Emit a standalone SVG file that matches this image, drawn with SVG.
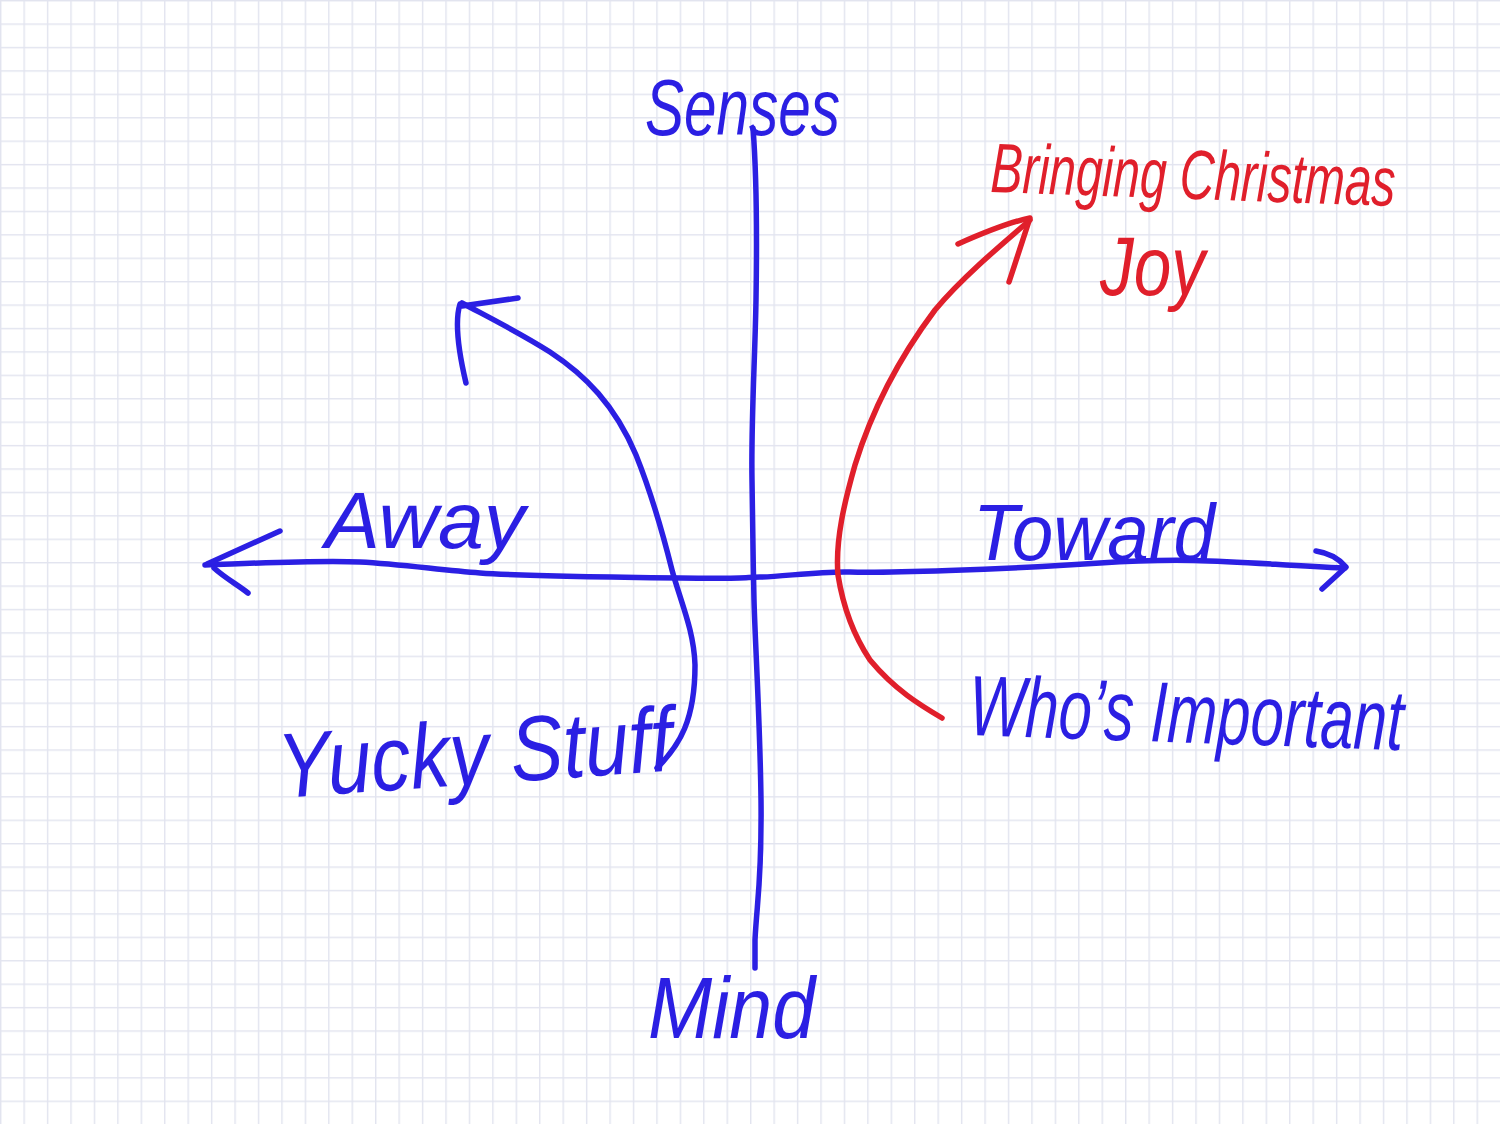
<svg xmlns="http://www.w3.org/2000/svg" width="1500" height="1124" viewBox="0 0 1500 1124">
<style>
.pen{fill:none;stroke-width:5.5;stroke-linecap:round;stroke-linejoin:round}
.blue{stroke:#2b1fe3}
.red{stroke:#e01f2b}
.hw{font-family:"Liberation Sans","DejaVu Sans",sans-serif;font-style:italic}
.tb{fill:#2b1fe3}
.tr{fill:#e01f2b}
</style>
<defs>
<pattern id="grid" width="23.4375" height="23.4167" patternUnits="userSpaceOnUse">
<rect x="0" y="0" width="1.4" height="23.4167" fill="#e2e4ef"/>
<rect x="0" y="0" width="23.4375" height="1.4" fill="#e2e4ef"/>
</pattern>
</defs>
<rect width="1500" height="1124" fill="#ffffff"/>
<rect width="1500" height="1124" fill="url(#grid)"/>
<g id="axes">
<path id="horizontal-axis" class="pen blue" d="M205,565 C260,563 320,560 360,562 S440,570 480,573 S600,577 680,578 S740,577 760,577 S820,571 850,572 S1000,570 1100,563 S1250,564 1345,568"/>
<path class="pen blue" d="M280,531 L207,564 M214,568 C225,578 238,585 248,593"/>
<path class="pen blue" d="M1316,551 C1330,553 1340,560 1346,567 L1322,589"/>
<path id="vertical-axis" class="pen blue" d="M753,128 C757,180 757,240 756,300 S751,420 752,480 S753,560 754,600 S760,720 761,800 S757,900 755,940 L755,968"/>
</g>
<g id="connectors">
<path id="away-arrow" class="pen blue" d="M657,768 C680,745 695,720 695,665 C694,630 680,600 672,570 C662,530 650,490 636,455 C615,405 585,375 550,352 C520,333 490,318 462,303"/>
<path class="pen blue" d="M518,298 L462,306 M460,304 C455,320 457,345 466,383"/>
<path id="toward-arrow" class="pen red" d="M942,718 C920,705 895,690 870,660 C850,630 842,600 838,575 C835,540 845,500 855,465 C875,400 905,350 935,310 C960,280 995,250 1030,220"/>
<path class="pen red" d="M958,244 C985,232 1010,222 1030,218 L1009,282"/>
</g>
<g id="senses" transform="translate(645 135) scale(1 1.38)"><text class="hw tb" x="0" y="0" font-size="58" textLength="195" lengthAdjust="spacingAndGlyphs">Senses</text></g>
<g id="mind" transform="translate(648 1038) scale(1 1.14)"><text class="hw tb" x="0" y="0" font-size="77" textLength="167" lengthAdjust="spacingAndGlyphs">Mind</text></g>
<g id="away"><text class="hw tb" x="325" y="548" font-size="80" textLength="200" lengthAdjust="spacingAndGlyphs">Away</text></g>
<g id="toward" transform="translate(973 560) scale(1 1.1)"><text class="hw tb" x="0" y="0" font-size="72" textLength="242" lengthAdjust="spacingAndGlyphs">Toward</text></g>
<g id="yucky-stuff" transform="translate(280 798) rotate(-4) scale(1 1.18)"><text class="hw tb" x="0" y="0" font-size="78" textLength="395" lengthAdjust="spacingAndGlyphs">Yucky Stuff</text></g>
<g id="whos-important" transform="translate(968 735) rotate(2) scale(1 1.43)"><text class="hw tb" x="0" y="0" font-size="60" textLength="435" lengthAdjust="spacingAndGlyphs">Who’s Important</text></g>
<g id="bringing-christmas-joy">
<g transform="translate(990 192) rotate(2) scale(1 1.46)"><text class="hw tr" x="0" y="0" font-size="48" textLength="405" lengthAdjust="spacingAndGlyphs">Bringing Christmas</text></g>
<g transform="translate(1100 295) scale(1 1.24)"><text class="hw tr" x="0" y="0" font-size="67" textLength="105" lengthAdjust="spacingAndGlyphs">Joy</text></g>
</g>
</svg>
